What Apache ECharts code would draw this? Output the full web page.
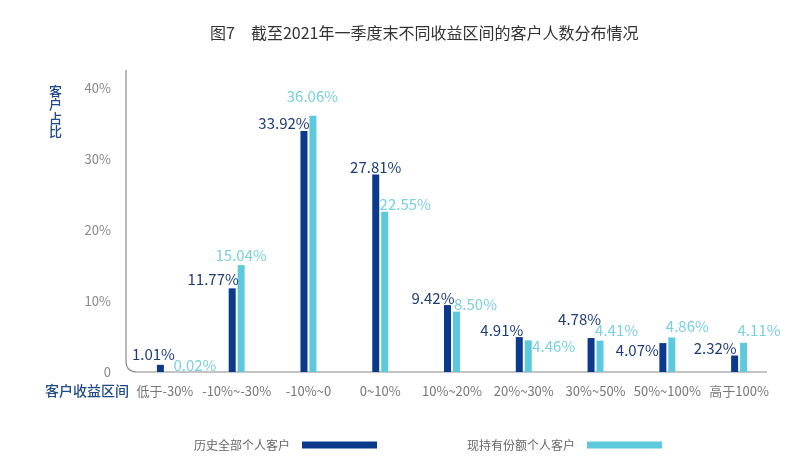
<!DOCTYPE html>
<html><head><meta charset="utf-8">
<script src="https://cdn.jsdelivr.net/npm/echarts@6/dist/echarts.min.js"></script>
<style>html,body{margin:0;padding:0;background:#fff}#c{width:800px;height:459px}</style>
</head><body><div id="c"></div>
<script>
const categories = ['低于-30%', '-10%~-30%', '-10%~0', '0~10%', '10%~20%', '20%~30%', '30%~50%', '50%~100%', '高于100%'];
const allClients = [1.01, 11.77, 33.92, 27.81, 9.42, 4.91, 4.78, 4.07, 2.32];
const holders = [0.02, 15.04, 36.06, 22.55, 8.50, 4.46, 4.41, 4.86, 4.11];
const yTicks = [0, 10, 20, 30, 40];
const seriesNames = ['历史全部个人客户', '现持有份额个人客户'];
const titleText = '图7　截至2021年一季度末不同收益区间的客户人数分布情况';
const yName = '客户占比';
const xName = '客户收益区间';

// label placement styles: text centre relative to bar top-left corner
const darkLabelPos = [[-3.5,-11],[-15.5,-9],[-16.5,-8],[3.5,-7],[-11,-7],[-14,-7],[-8,-19],[-22,7],[-16,-7]];
const lightLabelPos = [[29,-7],[3.5,-10],[3,-19],[24,-7],[22.5,-7],[29,6],[20,-10],[19,-11],[19,-12]];

const FONT = '"Noto Sans CJK SC", "Noto Sans", sans-serif';
const DARK = '#0b3a8c', LIGHT = '#5ec8dc';
const DARK_T = '#1d3c78', LIGHT_T = '#79d0de';

function mkData(vals, pos, color) {
  return vals.map((v, i) => ({
    value: v,
    label: {
      show: true, position: pos[i], align: 'center', verticalAlign: 'middle',
      formatter: p => p.value.toFixed(2) + '%', color: color, fontSize: 15, fontFamily: FONT
    }
  }));
}

const chart = echarts.init(document.getElementById('c'));
const option = {
  animation: false,
  backgroundColor: '#fff',
  title: { text: titleText, left: 205, top: 20, textStyle: { fontSize: 16, fontWeight: 'normal', color: '#333', fontFamily: FONT } },
  grid: { left: 129, right: 25, top: 70, bottom: 87 },
  legend: {
    data: seriesNames, left: 189, top: 434, align: 'right', icon: 'rect',
    itemWidth: 75, itemHeight: 7, itemGap: 90,
    textStyle: { fontSize: 12, color: '#666', fontFamily: FONT, padding: [0, 7, 0, 0] }
  },
  xAxis: {
    type: 'category', data: categories,
    axisLine: { show: false }, axisTick: { show: false },
    axisLabel: { color: '#777', fontSize: 13, margin: 13, fontFamily: FONT, interval: 0 }
  },
  yAxis: {
    type: 'value', min: 0, max: 42.5, interval: 10,
    axisLine: { show: false }, axisTick: { show: false }, splitLine: { show: false },
    axisLabel: {
      color: '#888', fontSize: 13, margin: 18, fontFamily: FONT,
      formatter: v => yTicks.indexOf(v) < 0 ? '' : (v === 0 ? '0' : v + '%')
    }
  },
  series: [
    { name: seriesNames[0], type: 'bar', barWidth: 7, barGap: '28%', itemStyle: { color: DARK }, data: mkData(allClients, darkLabelPos, DARK_T) },
    { name: seriesNames[1], type: 'bar', barWidth: 7, barGap: '28%', itemStyle: { color: LIGHT }, data: mkData(holders, lightLabelPos, LIGHT_T) }
  ]
};
chart.setOption(option);

const px = i => chart.convertToPixel({ xAxisIndex: 0 }, i);
const band = px(1) - px(0);
const left = px(0) - band / 2 - 3;
const right = px(categories.length - 1) + band / 2 - 8;
const baseY = chart.convertToPixel({ yAxisIndex: 0 }, 0);
const topY = chart.convertToPixel({ yAxisIndex: 0 }, 42.5);
const r = 11;
const axisStyle = { stroke: '#8a8a8a', lineWidth: 1.2, fill: null };
chart.setOption({
  graphic: [
    { type: 'line', shape: { x1: left, y1: topY, x2: left, y2: baseY - r }, style: axisStyle },
    { type: 'bezierCurve', shape: { x1: left, y1: baseY - r, cpx1: left, cpy1: baseY, x2: left + r, y2: baseY }, style: axisStyle },
    { type: 'line', shape: { x1: left + r, y1: baseY, x2: right, y2: baseY }, style: axisStyle },
    { type: 'text', left: 49, top: 84, style: { text: yName.split('').join('\n'), fontSize: 13, lineHeight: 13.5, fill: '#1f4a8a', fontFamily: FONT, fontWeight: 500 } },
    { type: 'text', right: 800 - left - 3, top: 384, style: { text: xName, fontSize: 14, fill: '#1f4a8a', fontFamily: FONT, fontWeight: 500 } }
  ]
});
</script></body></html>
